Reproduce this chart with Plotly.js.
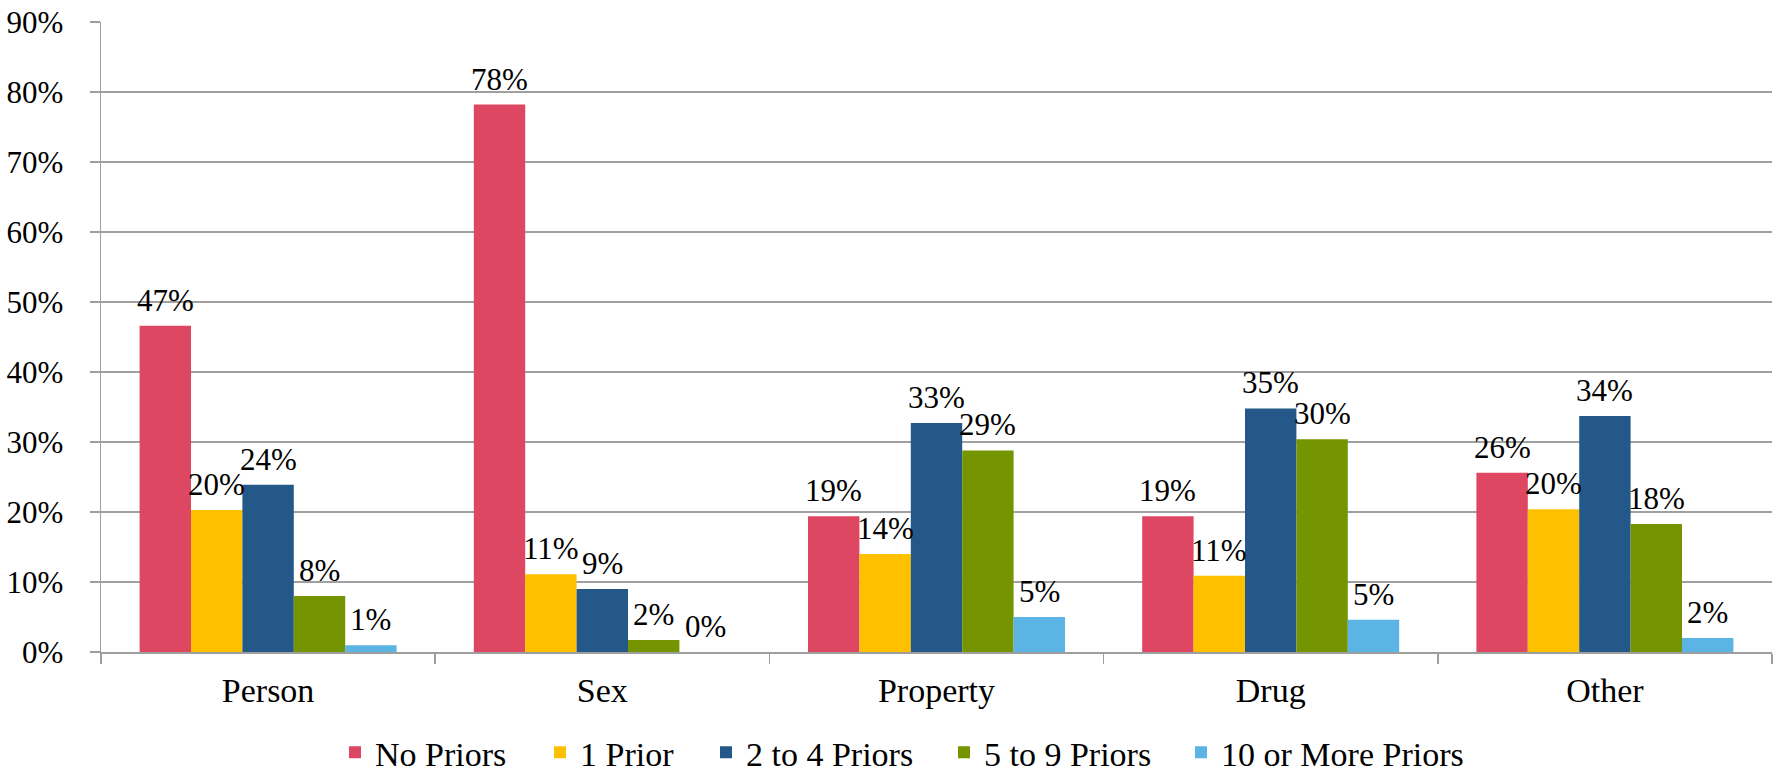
<!DOCTYPE html>
<html>
<head>
<meta charset="utf-8">
<script src="https://cdn.plot.ly/plotly-3.0.1.min.js"></script>
<style>html,body{margin:0;padding:0;background:#fff;}#chart{width:1782px;height:772px;}</style>
</head>
<body>
<div id="chart"></div>
<script>
const categories = ["Person", "Sex", "Property", "Drug", "Other"];
const seriesNames = ["No Priors", "1 Prior", "2 to 4 Priors", "5 to 9 Priors", "10 or More Priors"];
const noPriors   = [46.6, 78.2, 19.4, 19.4, 25.6];
const onePrior   = [20.3, 11.1, 14.0, 10.9, 20.4];
const twoToFour  = [23.9, 9.0, 32.7, 34.8, 33.7];
const fiveToNine = [8.0, 1.7, 28.8, 30.4, 18.3];
const tenOrMore  = [0.96, 0.0, 5.0, 4.6, 2.0];
const yTickVals  = [0, 10, 20, 30, 40, 50, 60, 70, 80, 90];
const yTickText  = ["0%", "10%", "20%", "30%", "40%", "50%", "60%", "70%", "80%", "90%"];

const colors = ["#DE4762", "#FFC000", "#235889", "#749500", "#5BB4E3"];
const allSeries = [noPriors, onePrior, twoToFour, fiveToNine, tenOrMore];

const serifFont = "Liberation Serif";
const W = 1782, H = 772;
const margin = {l: 101, r: 10, t: 22, b: 120};
const bargap = 0.231;
// legend entry left edges (container px) to reproduce the original spacing
const legendLeft = [335, 540, 706, 944, 1181];

const legendKey = i => (i === 0 ? "legend" : "legend" + (i + 1));

const traces = allSeries.map((vals, i) => ({
  type: "bar",
  name: seriesNames[i],
  legend: legendKey(i),
  x: categories,
  y: vals,
  marker: {color: colors[i], line: {width: 0}},
  hoverinfo: "skip"
}));

// value labels: placed at each bar's value via the axes, shifted onto its bar slot
const plotW = W - margin.l - margin.r;
const catW = plotW / categories.length;
const barW = catW * (1 - bargap) / allSeries.length;
const annotations = [];
allSeries.forEach((vals, i) => {
  vals.forEach((v, j) => {
    annotations.push({
      xref: "x", yref: "y",
      x: categories[j], y: v,
      text: Math.round(v) + "%",
      showarrow: false,
      xanchor: "center", yanchor: "bottom",
      xshift: (i - (allSeries.length - 1) / 2) * barW,
      yshift: 6,
      font: {family: serifFont, size: 31, color: "#000"}
    });
  });
});

const layout = {
  width: W,
  height: H,
  paper_bgcolor: "#fff",
  plot_bgcolor: "#fff",
  font: {family: serifFont, color: "#000"},
  margin: margin,
  barmode: "group",
  bargap: bargap,
  bargroupgap: 0,
  showlegend: true,
  annotations: annotations,
  xaxis: {
    type: "category",
    showgrid: false,
    showline: true,
    linecolor: "#9e9e9e",
    linewidth: 1.5,
    ticks: "outside",
    tickson: "boundaries",
    ticklen: 10,
    tickcolor: "#9e9e9e",
    tickwidth: 1.5,
    tickfont: {family: serifFont, size: 34, color: "#000"},
    ticklabelstandoff: 8,
    zeroline: false
  },
  yaxis: {
    range: [0, 90],
    tickvals: yTickVals,
    ticktext: yTickText,
    showgrid: true,
    gridcolor: "#a0a0a0",
    gridwidth: 1.5,
    showline: true,
    linecolor: "#9e9e9e",
    linewidth: 1.5,
    ticks: "outside",
    ticklen: 10,
    tickcolor: "#9e9e9e",
    tickwidth: 1.5,
    tickfont: {family: serifFont, size: 31, color: "#000"},
    ticklabelstandoff: 20,
    zeroline: false
  }
};

legendLeft.forEach((px, i) => {
  layout[legendKey(i)] = {
    orientation: "h",
    xref: "container",
    yref: "container",
    x: px / W,
    xanchor: "left",
    y: 0.025,
    yanchor: "middle",
    bgcolor: "rgba(0,0,0,0)",
    borderwidth: 0,
    font: {family: serifFont, size: 34, color: "#000"},
    itemwidth: 30
  };
});

Plotly.newPlot("chart", traces, layout, {staticPlot: true, displayModeBar: false});
</script>
</body>
</html>
